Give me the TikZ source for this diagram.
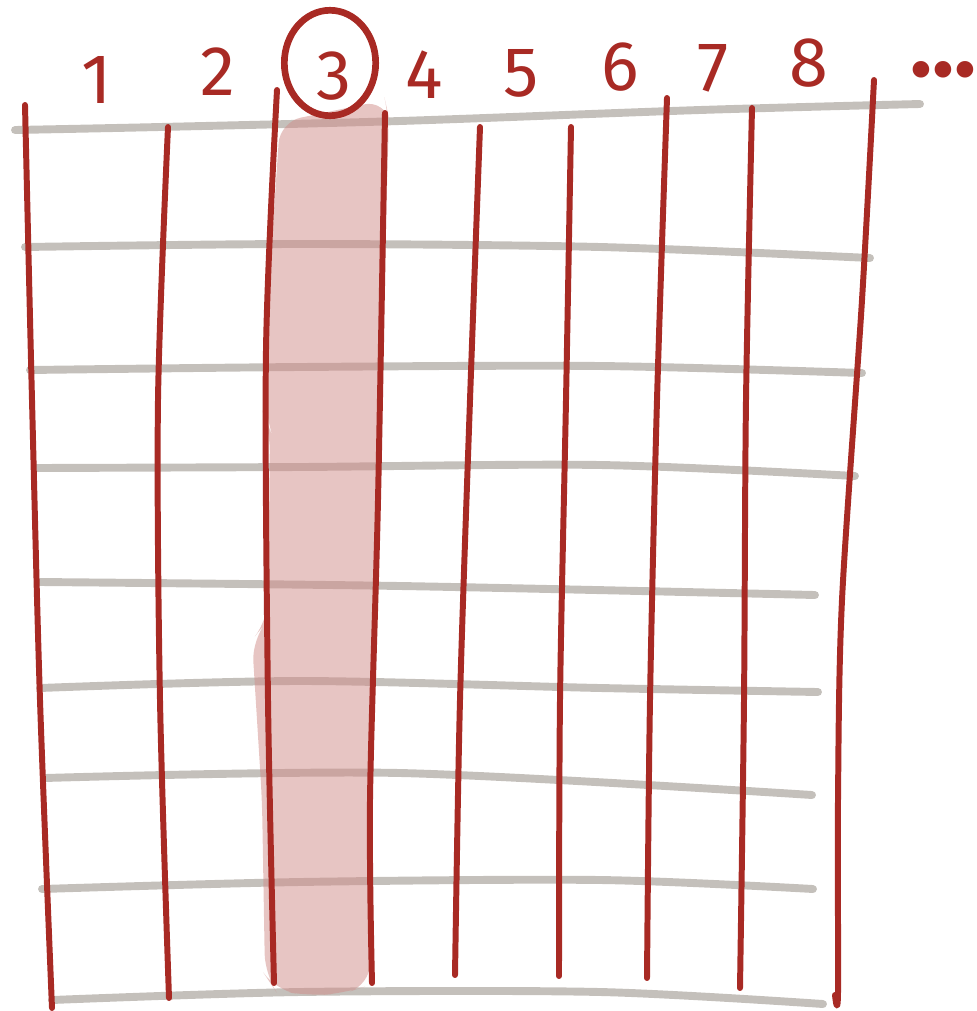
\documentclass[tikz,border=0pt]{standalone}
\usepackage{fontspec}
\setmainfont{Fira Sans}
\usetikzlibrary{shapes.geometric}
\definecolor{inkred}{HTML}{A82A24}
\definecolor{pencilgray}{HTML}{C4C0BB}
\definecolor{markpink}{RGB}{208,140,136}
\begin{document}
\begin{tikzpicture}[
x=0.02cm, y=-0.02cm,
rowline/.style={draw=pencilgray, line width=4.5pt, line cap=round, line join=round},
colline/.style={draw=inkred, line width=3.4pt, line cap=round, line join=round},
highlight/.style={fill=markpink, fill opacity=0.5, rounded corners=12},
num/.style={text=inkred, font=\fontsize{40}{40}\selectfont, inner sep=0pt}
]
\useasboundingbox (0,0) rectangle (977,1011);

% rows
\draw[rowline] plot[smooth] coordinates {(15,130) (160,127) (400,121) (700,110) (920,104)};
\draw[rowline] plot[smooth] coordinates {(25,247) (300,244) (600,247) (870,258)};
\draw[rowline] plot[smooth] coordinates {(30,370) (300,367) (600,366) (862,373)};
\draw[rowline] plot[smooth] coordinates {(35,468) (300,467) (600,465) (855,476)};
\draw[rowline] plot[smooth] coordinates {(40,582) (400,586) (815,595)};
\draw[rowline] plot[smooth] coordinates {(40,688) (300,681) (600,688) (818,692)};
\draw[rowline] plot[smooth] coordinates {(45,778) (400,773) (812,795)};
\draw[rowline] plot[smooth] coordinates {(42,889) (300,882) (600,880) (813,889)};
\draw[rowline] plot[smooth] coordinates {(52,1000) (300,992) (600,992) (823,1004)};

% highlighted column
\fill[highlight] (280,122) -- (385,100) -- (389,118) -- (380,420) -- (372,700)
  -- (370,985) -- (345,993) -- (310,996) -- (275,990) -- (265,975) -- (262,800)
  -- (252,640) -- (268,620) -- (270,430) -- (266,420) -- (268,300) -- cycle;

% columns
\draw[colline] plot[smooth] coordinates {(25,105) (32,400) (40,700) (52,1008)};
\draw[colline] plot[smooth] coordinates {(168,127) (158,400) (160,700) (169,998)};
\draw[colline] plot[smooth] coordinates {(277,90) (266,350) (268,700) (274,983)};
\draw[colline] plot[smooth] coordinates {(385,113) (378,500) (370,800) (372,983)};
\draw[colline] plot[smooth] coordinates {(480,127) (470,400) (460,700) (455,975)};
\draw[colline] plot[smooth] coordinates {(571,127) (566,400) (560,700) (559,976)};
\draw[colline] plot[smooth] coordinates {(667,98) (657,400) (650,700) (647,978)};
\draw[colline] plot[smooth] coordinates {(752,108) (746,400) (744,700) (740,988)};
\draw[colline] plot[smooth] coordinates {(874,80) (862,300) (842,600) (838,800) (838,993) (835,995)};

% labels
\node[num] (n1) at (97,80) {1};
\node[num] (n2) at (218,72) {2};
\node[num] (n3) at (334,76) {3};
\node[draw=inkred, line width=3.8pt, ellipse, inner sep=0pt, minimum width=52pt, minimum height=60pt] (ring) at (330,63) {};
\node[num] (n4) at (424,75) {4};
\node[num] (n5) at (521,73) {5};
\node[num] (n6) at (620,67) {6};
\node[num] (n7) at (713,68) {7};
\node[num] (n8) at (809,63) {8};
\node[num, font=\bfseries\fontsize{52}{52}\selectfont, anchor=west] (more) at (910,70) {...};
\end{tikzpicture}
\end{document}
